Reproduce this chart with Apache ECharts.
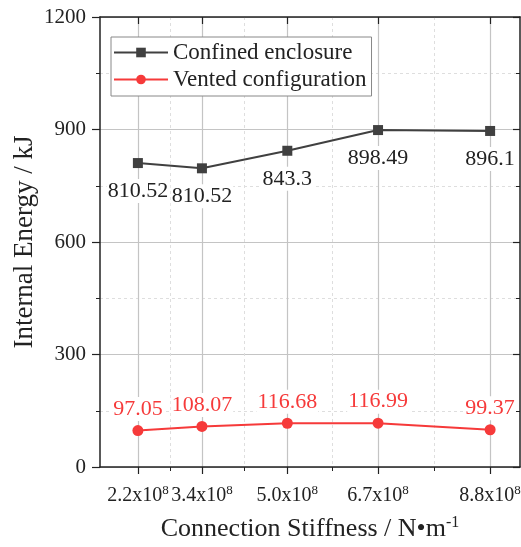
<!DOCTYPE html>
<html>
<head>
<meta charset="utf-8">
<script src="https://cdn.jsdelivr.net/npm/echarts@6/dist/echarts.min.js"></script>
<style>
  html, body { margin: 0; background: #fff; }
  #chart { width: 521px; height: 547px; }
</style>
</head>
<body>
<div id="chart"></div>
<script>
// data
const stiffness = [2.2, 3.4, 5.0, 6.7, 8.8];
const tickLabels = ["2.2x10", "3.4x10", "5.0x10", "6.7x10", "8.8x10"];
const tickExp = "8";
const confined = [810.52, 796.5, 843.3, 898.49, 896.1];
const confinedLabels = ["810.52", "810.52", "843.3", "898.49", "896.1"];
const vented = [97.05, 108.07, 116.68, 116.99, 99.37];
const ventedLabels = ["97.05", "108.07", "116.68", "116.99", "99.37"];

const FONT = "Liberation Serif";
const xMin = 1.49, xMax = 9.36;
// minor ticks halfway between the labelled ones
const minorX = stiffness.slice(1).map((v, i) => (v + stiffness[i]) / 2);

const chart = echarts.init(document.getElementById("chart"));

function xAxisBase(extra) {
  return Object.assign({
    type: "value",
    min: xMin,
    max: xMax,
    axisLine: { show: false },
    axisLabel: { show: false },
    axisTick: { show: false },
    splitLine: { show: false }
  }, extra);
}

const option = {
  animation: false,
  textStyle: { fontFamily: FONT },
  grid: { left: 100, right: 1, top: 17, bottom: 80, outerBoundsMode: "none" },
  legend: {
    orient: "vertical",
    left: 111,
    top: 37,
    padding: [4, 5, 5, 2],
    itemGap: 4,
    itemWidth: 54,
    itemHeight: 12,
    borderColor: "#888",
    borderWidth: 1,
    backgroundColor: "#fff",
    textStyle: { fontFamily: FONT, fontSize: 23, color: "#222" }
  },
  xAxis: [
    // main bottom axis with labels and major grid
    xAxisBase({
      position: "bottom",
      name: "Connection Stiffness / N\u2022m{sup|-1}",
      nameLocation: "middle",
      nameMoveOverlap: false,
      nameGap: 48,
      nameTextStyle: {
        fontFamily: FONT, fontSize: 26, color: "#222",
        rich: { sup: { fontFamily: FONT, fontSize: 16, color: "#222", padding: [0, 0, 13, 0] } }
      },
      axisLine: { show: true, onZero: false, lineStyle: { color: "#222", width: 1.5 } },
      axisTick: { show: true, inside: false, length: 7, customValues: stiffness, lineStyle: { color: "#222", width: 1.2 } },
      axisLabel: {
        show: true,
        customValues: stiffness,
        hideOverlap: false,
        margin: 17,
        fontFamily: FONT,
        fontSize: 20,
        color: "#222",
        formatter: function (v) {
          const i = stiffness.findIndex(s => Math.abs(s - v) < 1e-6);
          return "{b|" + tickLabels[i] + "}{s|" + tickExp + "}";
        },
        rich: {
          b: { fontFamily: FONT, fontSize: 20, color: "#222" },
          s: { fontFamily: FONT, fontSize: 13, color: "#222", padding: [0, 0, 10, 0] }
        }
      },
      splitLine: { show: true, lineStyle: { color: "#c4c4c4", width: 1.2 } }
    }),
    // bottom minor ticks + dashed grid
    xAxisBase({
      position: "bottom",
      axisTick: { show: true, inside: false, length: 4, customValues: minorX, lineStyle: { color: "#222", width: 1 } },
      splitLine: { show: true, lineStyle: { color: "#dedede", width: 1, type: [3, 3] } }
    }),
    // top mirror
    xAxisBase({
      position: "top",
      axisLine: { show: true, onZero: false, lineStyle: { color: "#222", width: 1.5 } },
      axisTick: { show: true, inside: true, length: 7, customValues: stiffness, lineStyle: { color: "#222", width: 1.2 } }
    }),
    xAxisBase({
      position: "top",
      axisTick: { show: true, inside: true, length: 4, customValues: minorX, lineStyle: { color: "#222", width: 1 } }
    })
  ],
  yAxis: [
    {
      type: "value",
      min: 0,
      max: 1200,
      interval: 300,
      name: "Internal Energy / kJ",
      nameLocation: "middle",
      nameMoveOverlap: false,
      nameGap: 62,
      nameTextStyle: { fontFamily: FONT, fontSize: 27, color: "#222" },
      axisLine: { show: true, onZero: false, lineStyle: { color: "#222", width: 1.5 } },
      axisTick: { show: true, inside: false, length: 8, lineStyle: { color: "#222", width: 1.2 } },
      minorTick: { show: true, splitNumber: 2, length: 4, lineStyle: { color: "#222", width: 1 } },
      axisLabel: { margin: 14, fontFamily: FONT, fontSize: 21, color: "#222", formatter: v => String(v) },
      splitLine: { show: true, lineStyle: { color: "#c4c4c4", width: 1.2 } },
      minorSplitLine: { show: true, lineStyle: { color: "#dedede", width: 1, type: [3, 3] } }
    },
    {
      type: "value",
      position: "right",
      min: 0,
      max: 1200,
      interval: 300,
      axisLine: { show: true, onZero: false, lineStyle: { color: "#222", width: 1.5 } },
      axisTick: { show: true, inside: true, length: 7, lineStyle: { color: "#222", width: 1.2 } },
      minorTick: { show: true, splitNumber: 2, length: 4, lineStyle: { color: "#222", width: 1 } },
      axisLabel: { show: false },
      splitLine: { show: false }
    }
  ],
  series: [
    {
      name: "Confined enclosure",
      type: "line",
      xAxisIndex: 0,
      yAxisIndex: 0,
      data: stiffness.map((x, i) => [x, confined[i]]),
      symbol: "rect",
      symbolSize: 10,
      color: "#404040",
      lineStyle: { color: "#404040", width: 2 },
      itemStyle: { color: "#404040" },
      label: {
        show: true,
        position: "bottom",
        distance: 11,
        fontFamily: FONT,
        fontSize: 22,
        color: "#222",
        backgroundColor: "#fff",
        padding: [1, 1],
        formatter: p => confinedLabels[p.dataIndex]
      },
      z: 3
    },
    {
      name: "Vented configuration",
      type: "line",
      xAxisIndex: 0,
      yAxisIndex: 0,
      data: stiffness.map((x, i) => [x, vented[i]]),
      symbol: "circle",
      symbolSize: 11,
      color: "#f63a3a",
      lineStyle: { color: "#f63a3a", width: 2 },
      itemStyle: { color: "#f63a3a" },
      label: {
        show: true,
        position: "top",
        distance: 4,
        fontFamily: FONT,
        fontSize: 22,
        color: "#f63a3a",
        backgroundColor: "#fff",
        padding: [1, 1],
        formatter: p => ventedLabels[p.dataIndex]
      },
      z: 3
    }
  ]
};

chart.setOption(option);
</script>
</body>
</html>
